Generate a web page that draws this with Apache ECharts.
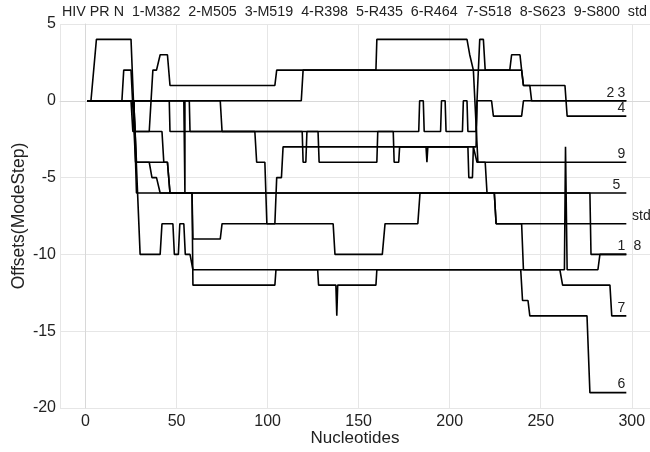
<!DOCTYPE html>
<html>
<head>
<meta charset="utf-8">
<style>html,body{margin:0;padding:0;background:#fff}#c{width:650px;height:452px}</style>
<script src="https://cdn.jsdelivr.net/npm/echarts@6/dist/echarts.min.js"></script>
</head>
<body>
<div id="c"></div>
<script>
// Header labels (top strip)
const headerLabels = ['HIV PR N', '1-M382', '2-M505', '3-M519', '4-R398', '5-R435', '6-R464', '7-S518', '8-S623', '9-S800', 'std'];

// Series names
const seriesNames = ['2', '3', '4', '9', '5', 'std', '1', '8', '7', '6'];

// Step paths: [nucleotide, offset]
const s2 = [[1,0],[57,0],[57.4,-2],[93,-2],[94,-4],[98.5,-4],[99.6,-8],[104,-8],[105,-5],[107.6,-5],[108.5,-3],[187,-3],[187.5,-4],[188,-3],[210,-3],[210.5,-5],[212.5,-5],[213,-3],[214.5,-3],[215,0],[223,0],[224,-1],[239.5,-1],[240.5,0],[297,0]];
const s3 = [[1,0],[46,0],[46.4,-2],[183,-2],[183.5,0],[185.5,0],[186,-2],[195,-2],[195.5,0],[197.5,0],[198,-2],[207,-2],[207.5,0],[209.5,0],[210,-2],[214.5,-2],[215,0],[216.5,4],[218.5,4],[219.5,2],[233,2],[234,3],[238.6,3],[239.5,2],[240.5,1],[244,1],[245,0],[297,0]];
const s4 = [[1,0],[118.5,0],[119.5,2],[239.5,2],[240.5,1],[263.3,1],[264.5,-1],[297,-1]];
const s9 = [[1,0],[25,0],[26,-2],[35,-2],[37,2],[39,2],[41,3],[45,3],[46.4,1],[104,1],[105,2],[159.5,2],[160,4],[209.5,4],[211,3],[212,3],[213,2],[214,2],[215.5,-4],[297,-4]];
const s5 = [[1,0],[26.5,0],[28,-6],[297,-6]];
const sStd = [[1,0],[54,0],[54.6,-6],[54.6,-6],[54.6,0],[74,0],[75,-2],[119,-2],[119.5,-4],[121,-4],[121.6,-2],[127.7,-2],[128.3,-4],[160,-4],[160.5,-2],[169,-2],[169.5,-4],[172,-4],[172.5,-3],[213,-3],[215,-4],[219.5,-4],[220.5,-6],[224.5,-6],[225.5,-8],[297,-8]];
const s1 = [[1,0],[3,0],[6,4],[25,4],[27,-2],[42,-2],[43,-4],[45,-4],[46.4,-6],[58.5,-6],[59,-12],[104,-12],[104.6,-11],[127.5,-11],[128,-12],[137.5,-12],[138,-14],[138.5,-12],[159.5,-12],[160,-11],[263,-11],[263.6,-3],[264.5,-11],[281.4,-11],[282.5,-10],[297,-10]];
const s8 = [[1,0],[20,0],[21,2],[25,2],[27.5,-4],[45,-4],[46.4,-6],[277,-6],[277.6,-10],[297,-10]];
const s7 = [[1,0],[26.5,0],[28,-4],[35,-4],[36.5,-5],[39,-5],[41,-6],[58.5,-6],[59,-9],[74,-9],[75,-8],[136,-8],[137,-10],[163,-10],[164.5,-8],[182.5,-8],[183.7,-6],[224.5,-6],[225.5,-8],[239.5,-8],[240.5,-11],[260.5,-11],[262,-12],[288,-12],[289,-14],[297,-14]];
const s6 = [[1,0],[26.5,0],[30,-10],[41,-10],[42,-8],[48,-8],[48.8,-10],[51,-10],[51.8,-8],[54,-8],[54.8,-10],[57.4,-10],[59,-11],[239,-11],[240,-13],[243,-13],[244,-14],[275.4,-14],[277,-19],[297,-19]];

const seriesData = [s2, s3, s4, s9, s5, sStd, s1, s8, s7, s6];
// label offsets (style only)
const labelOffsets = [[-16,-8],[-5,-8],[-5,-8],[-5,-8],[-10,-8],[15,-8],[-5,-8],[11,-8],[-5,-8],[-5,-8]];

const chart = echarts.init(document.getElementById('c'), null, {renderer: 'canvas'});
const font = 'Liberation Sans, Arial, Helvetica, sans-serif';

const series = seriesData.map((d, i) => ({
  name: seriesNames[i],
  type: 'line',
  data: d,
  symbol: 'none',
  showSymbol: false,
  animation: false,
  lineStyle: {color: '#000', width: 1.6},
  z: 3,
  endLabel: {
    show: true,
    formatter: '{a}',
    color: '#222',
    fontSize: 14,
    fontFamily: font,
    distance: 0,
    align: 'center',
    verticalAlign: 'middle',
    offset: labelOffsets[i]
  }
}));

chart.setOption({
  animation: false,
  backgroundColor: '#fff',
  title: {
    text: headerLabels.join('  '),
    left: 62,
    top: 5,
    padding: 0,
    textStyle: {fontSize: 14.3, fontWeight: 'normal', color: '#222', fontFamily: font}
  },
  grid: {left: 60, right: 0, top: 24, bottom: 44, containLabel: false, outerBoundsMode: 'none'},
  xAxis: {
    type: 'value',
    min: -14,
    max: 310,
    splitNumber: 6,
    name: 'Nucleotides',
    nameLocation: 'middle',
    nameGap: 22,
    nameMoveOverlap: false,
    nameTextStyle: {fontSize: 17, color: '#222', fontFamily: font},
    axisLine: {show: true, lineStyle: {color: '#d8d8d8'}},
    axisTick: {show: false},
    axisLabel: {fontSize: 16, color: '#222', fontFamily: font, showMinLabel: false, showMaxLabel: false, margin: 6},
    splitLine: {show: true, lineStyle: {color: '#e6e6e6', width: 1}}
  },
  yAxis: {
    type: 'value',
    min: -20,
    max: 5,
    interval: 5,
    name: 'Offsets(ModeStep)',
    nameLocation: 'middle',
    nameGap: 32,
    nameMoveOverlap: false,
    nameTextStyle: {fontSize: 17.5, color: '#222', fontFamily: font},
    axisLine: {show: true, lineStyle: {color: '#d8d8d8'}},
    axisTick: {show: false},
    axisLabel: {fontSize: 16, color: '#222', fontFamily: font, margin: 4},
    splitLine: {show: true, lineStyle: {color: '#e6e6e6', width: 1}}
  },
  series: series
});
</script>
</body>
</html>
